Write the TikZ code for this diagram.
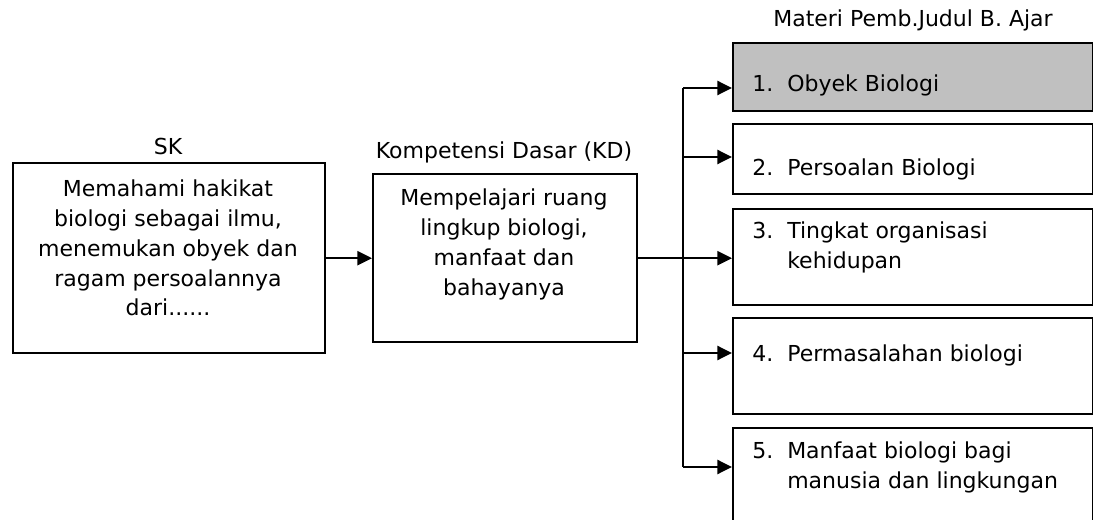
\documentclass[tikz,border=0pt]{standalone}
\usepackage{fontspec}
\setmainfont{DejaVu Sans}
\usepackage{tikz}
\usetikzlibrary{arrows.meta,positioning}
\definecolor{cshade}{HTML}{C0C0C0}
\newcommand{\itemno}[1]{\makebox[26.25pt][l]{#1}}

\begin{document}
\begin{tikzpicture}[
    x=0.75pt, y=-0.75pt,
    box/.style={draw, line width=1.8pt, inner sep=0pt, anchor=north west},
    txt/.style={font=\fontsize{16.5}{22.3}\selectfont, inner sep=0pt, align=center},
    itm/.style={txt, align=left, anchor=north west},
    head/.style={txt, anchor=center},
    arr/.style={line width=1.8pt, -{Triangle[length=11pt,width=10.5pt]}},
    bus/.style={line width=1.8pt},
]
\clip (0,0) rectangle (1093,520);
% SK
\node[head] (skhead) at (168,146) {SK};
\node[box, minimum width=312*0.75pt, minimum height=190*0.75pt] (sk) at (12,162) {};
\node[txt, anchor=north] (sktext) at (168,180)
  {Memahami hakikat\\biologi sebagai ilmu,\\menemukan obyek dan\\ragam persoalannya\\dari......};
% KD
\node[head] (kdhead) at (504,152) {Kompetensi Dasar (KD)};
\node[box, minimum width=264*0.75pt, minimum height=168*0.75pt] (kd) at (372,173) {};
\node[txt, anchor=north] (kdtext) at (504,189)
  {Mempelajari ruang\\lingkup biologi,\\manfaat dan\\bahayanya};
% materi
\node[head] (mhead) at (913,20) {Materi Pemb.Judul B. Ajar};
\node[box, fill=cshade, minimum width=360*0.75pt, minimum height=68*0.75pt] (m1) at (732,42) {};
\node[box, minimum width=360*0.75pt, minimum height=70*0.75pt] (m2) at (732,123) {};
\node[box, minimum width=360*0.75pt, minimum height=96*0.75pt] (m3) at (732,208) {};
\node[box, minimum width=360*0.75pt, minimum height=96*0.75pt] (m4) at (732,317) {};
\node[box, minimum width=360*0.75pt, minimum height=130*0.75pt] (m5) at (732,427) {};
\node[itm] (t1) at (752,75) {\itemno{1.}Obyek Biologi};
\node[itm] (t2) at (752,159) {\itemno{2.}Persoalan Biologi};
\node[itm] (t3) at (752,222) {\itemno{3.}Tingkat organisasi\\\itemno{}kehidupan};
\node[itm] (t4) at (752,345) {\itemno{4.}Permasalahan biologi};
\node[itm] (t5) at (752,442) {\itemno{5.}Manfaat biologi bagi\\\itemno{}manusia dan lingkungan};
% connectors
\coordinate (b1) at (683,88);
\coordinate (b2) at (683,157);
\coordinate (b4) at (683,353);
\coordinate (b5) at (683,467);
\draw[arr] (sk) -- (kd);
\draw[arr] (kd.east) -- (kd.east -| m3.west);
\draw[bus] (b1) -- (b5);
\draw[arr] (b1) -- (b1 -| m1.west);
\draw[arr] (b2) -- (b2 -| m2.west);
\draw[arr] (b4) -- (b4 -| m4.west);
\draw[arr] (b5) -- (b5 -| m5.west);
\end{tikzpicture}
\end{document}
